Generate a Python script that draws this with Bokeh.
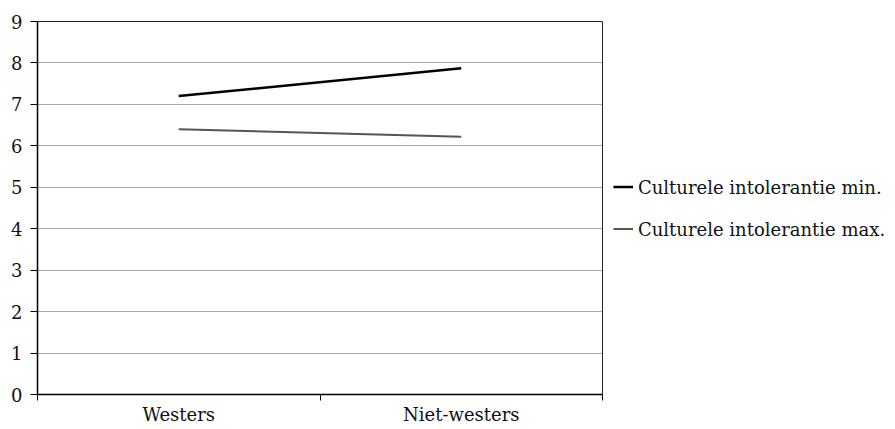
from bokeh.plotting import figure
from bokeh.models import FixedTicker, Legend, LegendItem, Range1d
from bokeh.embed import file_html
from bokeh.resources import INLINE

categories = ["Westers", "Niet-westers"]
series_min = [7.2, 7.87]
series_max = [6.4, 6.22]
legend_labels = ["Culturele intolerantie min.", "Culturele intolerantie max."]
y_ticks = [0, 1, 2, 3, 4, 5, 6, 7, 8, 9]

FONT = "DejaVu Serif"
FSIZE = "18px"

xs = [i + 0.5 for i in range(len(categories))]
bounds = list(range(len(categories) + 1))

p = figure(frame_width=565, frame_height=373, output_backend="svg", toolbar_location=None,
           x_range=Range1d(0, len(categories)), y_range=Range1d(0, 9),
           min_border_left=37, min_border_top=21, min_border_right=0, min_border_bottom=10)

p.background_fill_color = "white"
p.border_fill_color = "white"
p.outline_line_color = "#222222"
p.outline_line_width = 1

p.xgrid.visible = False
p.ygrid.grid_line_color = "#555555"
p.ygrid.grid_line_dash = "1 1"
p.ygrid.grid_line_width = 1
p.ygrid.ticker = FixedTicker(ticks=y_ticks)

p.yaxis.ticker = FixedTicker(ticks=y_ticks)
p.yaxis.major_tick_out = 7
p.yaxis.major_tick_in = 0
p.yaxis.minor_tick_line_color = None
p.yaxis.axis_line_color = "black"
p.yaxis.axis_line_width = 1.5
p.yaxis.major_label_text_font = FONT
p.yaxis.major_label_text_font_size = FSIZE
p.yaxis.major_label_text_color = "#111111"
p.yaxis.major_label_standoff = 8

p.xaxis.ticker = FixedTicker(ticks=xs, minor_ticks=bounds)
p.xaxis.major_label_overrides = {x: c for x, c in zip(xs, categories)}
p.xaxis.major_tick_line_color = None
p.xaxis.major_tick_out = 0
p.xaxis.minor_tick_out = 6
p.xaxis.minor_tick_in = 0
p.xaxis.minor_tick_line_color = "black"
p.xaxis.axis_line_color = "black"
p.xaxis.axis_line_width = 1.5
p.xaxis.major_label_text_font = FONT
p.xaxis.major_label_text_font_size = FSIZE
p.xaxis.major_label_text_color = "#111111"
p.xaxis.major_label_standoff = 3

r1 = p.line(xs, series_min, line_color="black", line_width=2.5)
r2 = p.line(xs, series_max, line_color="#555555", line_width=2)

legend = Legend(items=[LegendItem(label=legend_labels[0], renderers=[r1]),
                       LegendItem(label=legend_labels[1], renderers=[r2])],
                location="center_left", border_line_color=None, background_fill_alpha=0,
                label_text_font=FONT, label_text_font_size=FSIZE, label_text_color="#111111",
                glyph_width=20, spacing=21, margin=11, padding=0, label_standoff=5)
p.add_layout(legend, "right")

open("out.html", "w").write(file_html(p, INLINE))
